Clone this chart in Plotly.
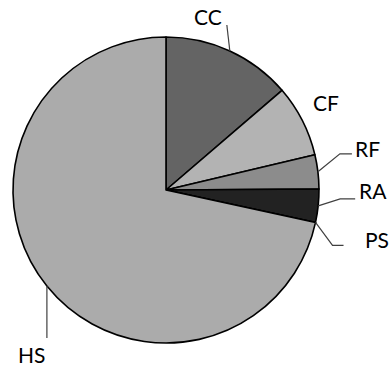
import math
import plotly.graph_objects as go

# Category shares (percent), drawn clockwise from 12 o'clock
labels = ["CC", "CF", "RF", "RA", "PS", "HS"]
values = [13.7, 7.6, 3.6, 3.5, 0.0, 71.6]
colors = ["#646464", "#b3b3b3", "#8c8c8c", "#222222", "#ffffff", "#ababab"]

# Leader-line styling per label: elbow offset, tail length, text offset (px, from slice edge)
leaders = {
    "CC": ((-3, -26), 0, (-22, -34)),
    "CF": (None, 0, (24, -18.5)),
    "RF": ((22, -18), 12, (50, -23)),
    "RA": ((22, -7), 15, (55, -15.5)),
    "PS": ((17, 23), 11, (61, 17)),
    "HS": ((0, 52), 0, (-15, 68)),
}

W, H = 390, 367
ML, MR, MT, MB = 13, 71, 37, 24
PW = W - ML - MR
PH = H - MT - MB
R = min(PW, PH) / 2
CX = ML + PW / 2
CY = MT + PH / 2


def to_paper(x, y):
    return (x - ML) / PW, (H - MB - y) / PH


fig = go.Figure(
    go.Pie(
        labels=labels,
        values=values,
        sort=False,
        direction="clockwise",
        rotation=0,
        marker=dict(colors=colors, line=dict(color="#000000", width=1.6)),
        textinfo="none",
        hoverinfo="label+percent",
        showlegend=False,
    )
)

total = sum(values)
cum = 0.0
shapes = []
annotations = []
for lab, val in zip(labels, values):
    mid = (cum + val / 2) / total * 2 * math.pi
    cum += val
    ex = CX + R * math.sin(mid)
    ey = CY - R * math.cos(mid)
    elbow, tail, toff = leaders[lab]
    if elbow is not None:
        pts = [(ex, ey), (ex + elbow[0], ey + elbow[1])]
        if tail:
            pts.append((ex + elbow[0] + tail, ey + elbow[1]))
        path = ""
        for i, (px, py) in enumerate(pts):
            qx, qy = to_paper(px, py)
            path += ("M" if i == 0 else "L") + f"{qx:.5f},{qy:.5f} "
        shapes.append(dict(type="path", xref="paper", yref="paper", path=path.strip(),
                           line=dict(color="#404040", width=1.2)))
    tx, ty = to_paper(ex + toff[0], ey + toff[1])
    annotations.append(dict(x=tx, y=ty, xref="paper", yref="paper", text=lab,
                            showarrow=False, xanchor="center", yanchor="middle",
                            font=dict(family="Lato", size=21, color="#000000")))

fig.update_layout(
    width=W,
    height=H,
    margin=dict(l=ML, r=MR, t=MT, b=MB, pad=0),
    paper_bgcolor="#ffffff",
    plot_bgcolor="#ffffff",
    shapes=shapes,
    annotations=annotations,
)

fig.write_html("out.html")
